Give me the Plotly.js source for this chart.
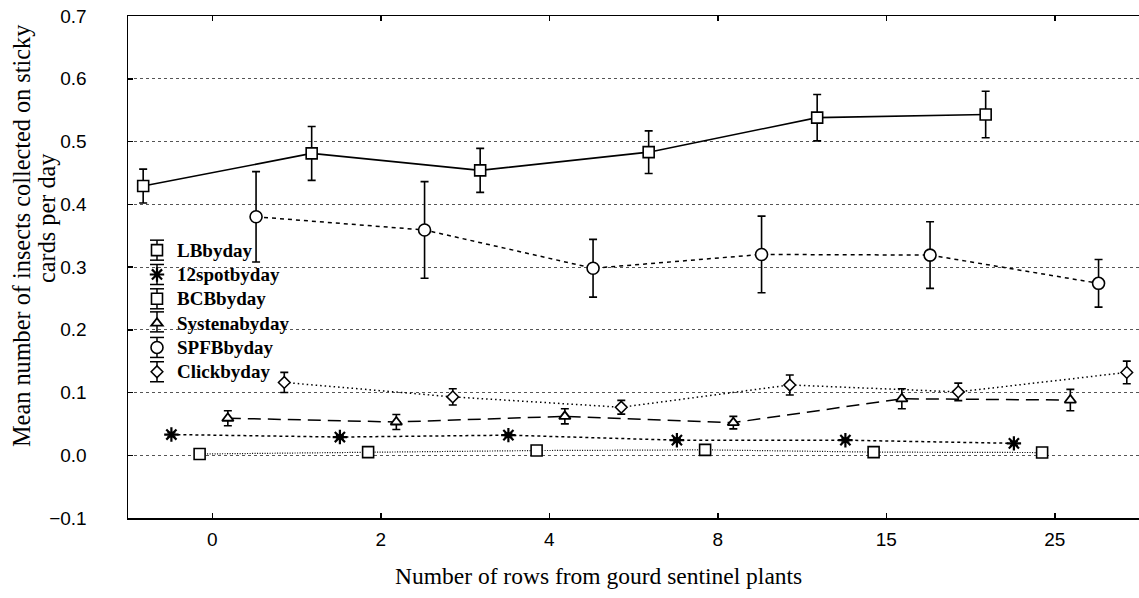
<!DOCTYPE html>
<html>
<head>
<meta charset="utf-8">
<script src="https://cdn.plot.ly/plotly-3.0.1.min.js"></script>
<style>
  html, body { margin: 0; padding: 0; background: #ffffff; overflow: hidden; }
  #chart { width: 1139px; height: 598px; }
</style>
</head>
<body>
<div id="chart"></div>
<script>
// Rows from the gourd sentinel plants (category axis)
const rowCategories = ['0', '2', '4', '8', '15', '25'];

// Mean insects per sticky card per day, with error-bar half widths
const lbMean      = [0.429, 0.481, 0.454, 0.483, 0.538, 0.543];
const lbErr       = [0.027, 0.043, 0.035, 0.034, 0.037, 0.037];

const spotMean    = [0.033, 0.029, 0.032, 0.024, 0.024, 0.019];
const spotErr     = [0.003, 0.003, 0.003, 0.003, 0.003, 0.003];

const bcbMean     = [0.002, 0.005, 0.0075, 0.0086, 0.005, 0.0043];
const bcbErr      = [0.002, 0.002, 0.002, 0.002, 0.002, 0.002];

const systenaMean = [0.059, 0.053, 0.062, 0.052, 0.090, 0.088];
const systenaErr  = [0.012, 0.012, 0.012, 0.010, 0.016, 0.017];

const spfbMean    = [0.380, 0.359, 0.298, 0.320, 0.319, 0.274];
const spfbErr     = [0.072, 0.077, 0.046, 0.061, 0.053, 0.038];

const clickMean   = [0.116, 0.093, 0.0765, 0.112, 0.101, 0.132];
const clickErr    = [0.016, 0.013, 0.011, 0.016, 0.014, 0.018];

const seriesNames = ['LBbyday', '12spotbyday', 'BCBbyday', 'Systenabyday', 'SPFBbyday', 'Clickbyday'];
const seriesMeans = [lbMean, spotMean, bcbMean, systenaMean, spfbMean, clickMean];
const seriesErrs  = [lbErr, spotErr, bcbErr, systenaErr, spfbErr, clickErr];

const xTitle = 'Number of rows from gourd sentinel plants';
const yTitleLines = ['Mean number of insects collected on sticky', 'cards per day'];

// Visual style of each series
const styles = [
  { symbol: 'square',        size: 11, fill: '#ffffff', dash: 'solid',     width: 1.6, mlw: 1.6 },
  { symbol: 'asterisk-open', size: 12, fill: '#000000', dash: '3px,3px',   width: 1.5, mlw: 2.2 },
  { symbol: 'square',        size: 11, fill: '#ffffff', dash: '1px,1.5px', width: 1.2, mlw: 1.6 },
  { symbol: 'triangle-up',   size: 10, fill: '#ffffff', dash: '13px,7px',  width: 1.5, mlw: 1.8 },
  { symbol: 'circle',        size: 12, fill: '#ffffff', dash: '4px,4px',   width: 1.5, mlw: 1.6 },
  { symbol: 'diamond',       size: 9,  fill: '#ffffff', dash: '1.5px,3px', width: 1.5, mlw: 1.5 }
];

// Series are dodged sideways inside each category slot
const dodgeStart = -0.41;
const dodgeStep = 0.1675;

const serif = 'Liberation Serif, Times New Roman, serif';
const sans = 'Liberation Sans, Arial, sans-serif';

const traces = [];
seriesNames.forEach((name, i) => {
  const st = styles[i];
  const xs = rowCategories.map((_, k) => k + dodgeStart + i * dodgeStep);
  traces.push({
    type: 'scatter',
    mode: 'lines+markers',
    name: name,
    legendgroup: name,
    showlegend: false,
    x: xs,
    y: seriesMeans[i],
    line: { color: '#000000', width: st.width, dash: st.dash },
    marker: {
      symbol: st.symbol, size: st.size, color: st.fill,
      line: { color: '#000000', width: st.mlw }
    },
    error_y: {
      type: 'data', array: seriesErrs[i], visible: true,
      color: '#000000', thickness: 1.6, width: 4
    },
    cliponaxis: false,
    hoverinfo: 'x+y+name'
  });
});

// Legend entries: marker only, text drawn a little larger than the row height
seriesNames.forEach((name, i) => {
  const st = styles[i];
  traces.push({
    type: 'scatter',
    mode: 'markers',
    name: '<span style="font-size:19px">' + name + '</span>',
    legendgroup: name,
    showlegend: true,
    x: [null],
    y: [null],
    marker: {
      symbol: st.symbol, size: st.size, color: st.fill,
      line: { color: '#000000', width: st.mlw }
    },
    hoverinfo: 'skip'
  });
});

// Plot area in pixels (kept in step with the margins below)
const M = { l: 128, r: 0, t: 16, b: 80 };
const W = 1139, H = 598;
const pw = W - M.l - M.r, ph = H - M.t - M.b;
const paperX = px => (px - M.l) / pw;
const paperY = py => 1 - (py - M.t) / ph;

const layout = {
  width: W,
  height: H,
  margin: M,
  paper_bgcolor: '#ffffff',
  plot_bgcolor: '#ffffff',
  showlegend: true,
  legend: {
    x: paperX(137), y: paperY(233), xanchor: 'left', yanchor: 'top',
    bgcolor: 'rgba(0,0,0,0)', borderwidth: 0,
    traceorder: 'normal',
    font: { family: serif, size: 16.4, color: '#000000', weight: 'bold' }
  },
  xaxis: {
    range: [-0.5, 5.5],
    tickmode: 'array',
    tickvals: rowCategories.map((_, k) => k),
    ticktext: rowCategories,
    showgrid: false,
    zeroline: false,
    showline: true, linecolor: '#000000', linewidth: 1.5,
    mirror: 'ticks',
    ticks: 'inside', ticklen: 5, tickwidth: 1.5, tickcolor: '#000000',
    ticklabelstandoff: 4,
    tickfont: { family: sans, size: 19, color: '#000000' }
  },
  yaxis: {
    range: [-0.1, 0.7],
    tickmode: 'linear', tick0: -0.1, dtick: 0.1,
    tickformat: '.1f',
    showgrid: true, gridcolor: '#555555', gridwidth: 1, griddash: 'dot',
    zeroline: false,
    showline: true, linecolor: '#000000', linewidth: 1.5,
    ticks: 'inside', ticklen: 5, tickwidth: 1.5, tickcolor: '#000000',
    ticklabelstandoff: 36,
    tickfont: { family: sans, size: 19, color: '#000000' }
  },
  annotations: [
    {
      text: xTitle, xref: 'paper', yref: 'paper',
      x: paperX(598), y: paperY(576), xanchor: 'center', yanchor: 'middle',
      showarrow: false, font: { family: serif, size: 23.5, color: '#000000' }
    },
    {
      text: yTitleLines[0], xref: 'paper', yref: 'paper', textangle: -90,
      x: paperX(21), y: paperY(236), xanchor: 'center', yanchor: 'middle',
      showarrow: false, font: { family: serif, size: 24.3, color: '#000000' }
    },
    {
      text: yTitleLines[1], xref: 'paper', yref: 'paper', textangle: -90,
      x: paperX(46), y: paperY(218), xanchor: 'center', yanchor: 'middle',
      showarrow: false, font: { family: serif, size: 24.3, color: '#000000' }
    }
  ]
};

const gd = document.getElementById('chart');
Plotly.newPlot(gd, traces, layout, { displayModeBar: false, staticPlot: true }).then(() => {
  // Error-bar glyphs beside each legend marker
  const box = gd.getBoundingClientRect();
  const pts = gd.querySelectorAll('.legend .traces .legendpoints path.scatterpts');
  const shapes = [];
  const half = 10, cap = 7;
  const ln = { color: '#000000', width: 1.5 };
  pts.forEach(p => {
    const r = p.getBoundingClientRect();
    const cx = r.left + r.width / 2 - box.left;
    const cy = r.top + r.height / 2 - box.top;
    shapes.push({ type: 'line', xref: 'paper', yref: 'paper', layer: 'below',
      x0: paperX(cx), x1: paperX(cx), y0: paperY(cy - half), y1: paperY(cy + half), line: ln });
    shapes.push({ type: 'line', xref: 'paper', yref: 'paper',
      x0: paperX(cx - cap), x1: paperX(cx + cap), y0: paperY(cy - half), y1: paperY(cy - half), line: ln });
    shapes.push({ type: 'line', xref: 'paper', yref: 'paper',
      x0: paperX(cx - cap), x1: paperX(cx + cap), y0: paperY(cy + half), y1: paperY(cy + half), line: ln });
  });
  return Plotly.relayout(gd, { shapes: shapes });
});
</script>
</body>
</html>
